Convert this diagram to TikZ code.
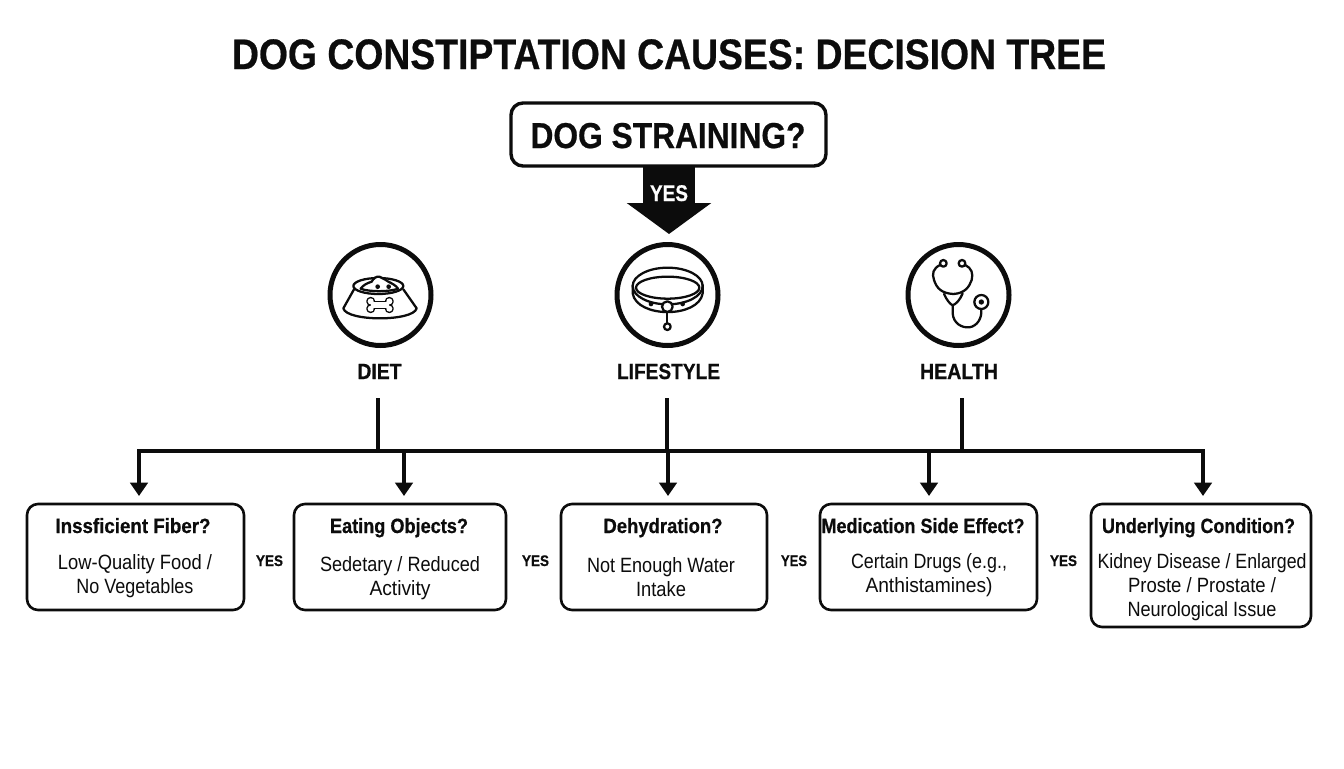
\documentclass[tikz,border=0pt]{standalone}
\usepackage{fontspec}
\usepackage{graphicx}
\setmainfont[BoldFeatures={FakeBold=0.6}]{Liberation Sans}
\usetikzlibrary{arrows.meta}
\newlength\pxu \setlength\pxu{.75pt}
\newcommand\tw[2]{\resizebox{#1\pxu}{\height}{#2}}
\definecolor{ink}{HTML}{0C0C0C}
\tikzset{
  x=.75pt,y=-.75pt,
  every node/.style={inner sep=0pt,outer sep=0pt,text=ink},
  qbox/.style={draw=ink,line width=2.6*.75pt,rounded corners=11*.75pt,fill=white},
  topbox/.style={draw=ink,line width=3.4*.75pt,rounded corners=12*.75pt,fill=white},
  ttl/.style={anchor=base,font=\bfseries\fontsize{15.5}{18}\selectfont},
  bdy/.style={align=center,font=\fontsize{15.5}{18}\selectfont},
  cat/.style={anchor=base,font=\bfseries\fontsize{16.5}{18}\selectfont},
  yeslab/.style={anchor=base,font=\bfseries\fontsize{11.5}{14}\selectfont},
  ring/.style={circle,draw=ink,line width=5*.75pt,minimum size=101*.75pt,fill=white},
  bus/.style={draw=ink,line width=4*.75pt},
  drop/.style={draw=ink,line width=4*.75pt,-{Triangle[length=10pt,width=13pt]},shorten >=8*.75pt},
  icon/.style={draw=ink,line width=1.7pt,line cap=round,line join=round},
  iconin/.style={x=.25pt,y=-.25pt}
}
\begin{document}
\begin{tikzpicture}
\useasboundingbox (0,0) rectangle (1344,768);
\fill[white] (0,0) rectangle (1344,768);

\node[anchor=base,font=\bfseries\fontsize{32}{36}\selectfont\addfontfeature{FakeBold=1.3}] (title) at (669,69) {\tw{874}{DOG CONSTIPTATION CAUSES: DECISION TREE}};

% top question and block arrow
\node[topbox,minimum width=315*.75pt,minimum height=63*.75pt] (q) at (668.5,134.5) {};
\node[anchor=base,font=\bfseries\fontsize{27}{30}\selectfont\addfontfeature{FakeBold=1}] (qt) at (668,148) {\tw{275}{DOG STRAINING?}};
\coordinate (tip) at (669,234);
\draw[ink,line width=52*.75pt,-{Triangle[length=31*.75pt,width=83*.75pt]}] (q.south -| tip) -- (tip);
\node[anchor=base,font=\bfseries\fontsize{17}{18}\selectfont,text=white] (y0) at (669,201) {\tw{38}{YES}};

% icon rings
\node[ring] (r1) at (380.5,295) {};
\node[ring] (r2) at (667.5,295) {};
\node[ring] (r3) at (958.5,295) {};

% bowl
\begin{scope}[shift={(310,230)},iconin]
  \draw[icon] (132,178) -- (100,235) .. controls (110,275) and (310,275) .. (320,235) -- (280,178);
  \draw[icon,fill=white] (205,168) ellipse [x radius=75,y radius=24];
  \draw[icon,fill=white] (152,176) .. controls (160,165) and (170,160) .. (185,155) .. controls (190,145) and (200,138) .. (208,140) .. controls (218,145) and (225,148) .. (235,155) .. controls (245,160) and (258,166) .. (264,176) .. controls (240,186) and (175,186) .. (152,176) -- cycle;
  \fill[ink] (203,170) circle (7) (236,170) circle (7);
  \foreach \p in {(182,214),(182,236),(238,214),(238,236)} \draw[icon] \p circle (10);
  \draw[icon] (182,216) rectangle (238,234);
  \foreach \p in {(182,214),(182,236),(238,214),(238,236)} \fill[white] \p circle (9);
  \fill[white] (182,217) rectangle (238,233);
\end{scope}

% collar
\begin{scope}[shift={(600,230)},iconin]
  \draw[icon] (98,165) -- (98,190) .. controls (110,265) and (296,265) .. (308,190) -- (308,165);
  \draw[icon] (203,168) ellipse [x radius=105,y radius=55];
  \draw[icon] (203,173) ellipse [x radius=95,y radius=33];
  \draw[icon,fill=white] (202,230) circle (16);
  \fill[ink] (153,222) circle (7) (248,222) circle (7);
  \draw[icon] (202,246) -- (202,280);
  \draw[icon,fill=white] (202,290) circle (10);
\end{scope}

% stethoscope
\begin{scope}[shift={(890,230)},iconin]
  \draw[icon] (160,100) circle (10) (216,100) circle (10);
  \draw[icon] (150,105) .. controls (130,115) and (125,130) .. (132,150) .. controls (140,175) and (155,190) .. (190,192) .. controls (225,190) and (238,170) .. (245,150) .. controls (250,130) and (245,115) .. (226,105);
  \draw[icon] (162,192) .. controls (170,210) and (180,222) .. (188,226) .. controls (198,222) and (210,210) .. (218,190);
  \draw[icon] (188,226) -- (188,250) .. controls (190,280) and (215,294) .. (238,292) .. controls (262,288) and (276,265) .. (274,238);
  \draw[icon,fill=white] (274,216) circle (21);
  \fill[ink] (274,216) circle (8);
\end{scope}

% category labels
\node[cat] (l1) at (379.5,379) {\tw{44}{DIET}};
\node[cat] (l2) at (668.5,379) {\tw{103}{LIFESTYLE}};
\node[cat] (l3) at (959,379) {\tw{78}{HEALTH}};

% question boxes
\node[qbox,minimum width=217*.75pt,minimum height=106*.75pt] (b1) at (135.5,557) {};
\node[qbox,minimum width=212*.75pt,minimum height=106*.75pt] (b2) at (400,557) {};
\node[qbox,minimum width=206*.75pt,minimum height=106*.75pt] (b3) at (664,557) {};
\node[qbox,minimum width=217*.75pt,minimum height=106*.75pt] (b4) at (928.5,557) {};
\node[qbox,minimum width=220*.75pt,minimum height=123*.75pt] (b5) at (1201,565.5) {};

% connectors
\coordinate (s1) at (378,398);
\coordinate (s2) at (667,398);
\coordinate (s3) at (962,398);
\coordinate (w) at (139,451);
\coordinate (e) at (1203,451);
\coordinate (d2) at (404,451);
\coordinate (d3) at (668,451);
\coordinate (d4) at (929,451);
\draw[bus] (s1) -- (s1 |- w);
\draw[bus] (s2) -- (s2 |- w);
\draw[bus] (s3) -- (s3 |- w);
\draw[bus,line cap=rect] (w) -- (e);
\draw[drop] (w) -- (w |- b1.north);
\draw[drop] (d2) -- (d2 |- b2.north);
\draw[drop] (d3) -- (d3 |- b3.north);
\draw[drop] (d4) -- (d4 |- b4.north);
\draw[drop] (e) -- (e |- b5.north);

% box texts
\node[ttl] (t1) at (133,533) {\tw{155}{Inssficient Fiber?}};
\node[ttl] (t2) at (399,533) {\tw{138}{Eating Objects?}};
\node[ttl] (t3) at (663,533) {\tw{119}{Dehydration?}};
\node[ttl] (t4) at (923,533) {\tw{203}{Medication Side Effect?}};
\node[ttl] (t5) at (1198.5,533) {\tw{193}{Underlying Condition?}};

\node[bdy] (c1) at (135,576) {\tw{154}{Low-Quality Food /}\\\tw{117}{No Vegetables}};
\node[bdy] (c2) at (400,578) {\tw{160}{Sedetary / Reduced}\\\tw{61}{Activity}};
\node[bdy] (c3) at (661,577) {\tw{148}{Not Enough Water}\\\tw{50}{Intake}};
\node[bdy] (c4) at (929,575) {\tw{156}{Certain Drugs (e.g.,}\\\tw{127}{Anthistamines)}};
\node[bdy] (c5) at (1202,587) {\tw{209}{Kidney Disease / Enlarged}\\\tw{148}{Proste / Prostate /}\\\tw{149}{Neurological Issue}};

% side YES labels
\node[yeslab] (y1) at (269.5,566) {\tw{27}{YES}};
\node[yeslab] (y2) at (535.5,566) {\tw{27}{YES}};
\node[yeslab] (y3) at (794,566) {\tw{26}{YES}};
\node[yeslab] (y4) at (1063.5,566) {\tw{27}{YES}};
\end{tikzpicture}
\end{document}
